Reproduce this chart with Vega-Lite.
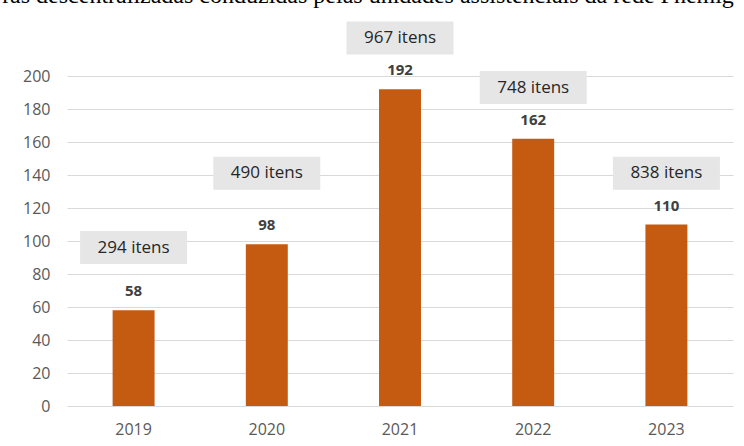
{
  "$schema": "https://vega.github.io/schema/vega-lite/v6.json",
  "width": 666,
  "height": 330,
  "autosize": "none",
  "padding": {"left": 67, "top": 76, "right": 11, "bottom": 40},
  "background": "white",
  "title": {
    "text": "ras descentralizadas conduzidas pelas unidades assistenciais da rede Fhemig",
    "font": "Liberation Serif",
    "fontSize": 24,
    "fontWeight": "normal",
    "color": "#000000",
    "anchor": "middle",
    "frame": "group",
    "baseline": "alphabetic",
    "offset": -5,
    "dx": -32
  },
  "config": {
    "view": {"stroke": null},
    "font": "Open Sans",
    "axisY": {
      "title": null,
      "values": [0, 20, 40, 60, 80, 100, 120, 140, 160, 180, 200],
      "labelOverlap": false,
      "labelFont": "Open Sans",
      "labelFontSize": 16,
      "labelColor": "#595959",
      "labelPadding": 17,
      "ticks": false,
      "domain": false,
      "grid": true,
      "gridColor": "#D9D9D9",
      "gridWidth": 1
    }
  },
  "data": {
    "values": [
      {"ano": "2019", "valor": 58, "itens": "294 itens", "rotulo_y": 96},
      {"ano": "2020", "valor": 98, "itens": "490 itens", "rotulo_y": 141},
      {"ano": "2021", "valor": 192, "itens": "967 itens", "rotulo_y": 223},
      {"ano": "2022", "valor": 162, "itens": "748 itens", "rotulo_y": 193},
      {"ano": "2023", "valor": 110, "itens": "838 itens", "rotulo_y": 141}
    ]
  },
  "encoding": {
    "x": {
      "field": "ano",
      "type": "nominal",
      "scale": {"paddingInner": 0.685, "paddingOuter": 0.3425},
      "axis": {
        "title": null,
        "labelAngle": 0,
        "labelFont": "Open Sans",
        "labelFontSize": 16,
        "labelColor": "#595959",
        "labelPadding": 15,
        "ticks": false,
        "domain": false
      }
    }
  },
  "layer": [
    {
      "mark": {"type": "bar", "color": "#C55A11"},
      "encoding": {
        "y": {
          "field": "valor",
          "type": "quantitative",
          "title": null,
          "scale": {"domain": [0, 200], "nice": false}
        }
      }
    },
    {
      "mark": {
        "type": "text",
        "font": "Open Sans",
        "fontSize": 15,
        "fontWeight": "bold",
        "color": "#404040",
        "baseline": "alphabetic",
        "dy": -14
      },
      "encoding": {
        "y": {"field": "valor", "type": "quantitative", "title": null},
        "text": {"field": "valor", "type": "quantitative"}
      }
    },
    {
      "mark": {
        "type": "tick",
        "orient": "horizontal",
        "size": 107,
        "thickness": 33,
        "color": "#E7E6E6",
        "opacity": 1,
        "clip": false
      },
      "encoding": {
        "y": {"field": "rotulo_y", "type": "quantitative", "title": null}
      }
    },
    {
      "mark": {
        "type": "text",
        "font": "Open Sans",
        "fontSize": 17,
        "color": "#262626",
        "baseline": "middle",
        "clip": false
      },
      "encoding": {
        "y": {"field": "rotulo_y", "type": "quantitative", "title": null},
        "text": {"field": "itens", "type": "nominal"}
      }
    }
  ]
}
